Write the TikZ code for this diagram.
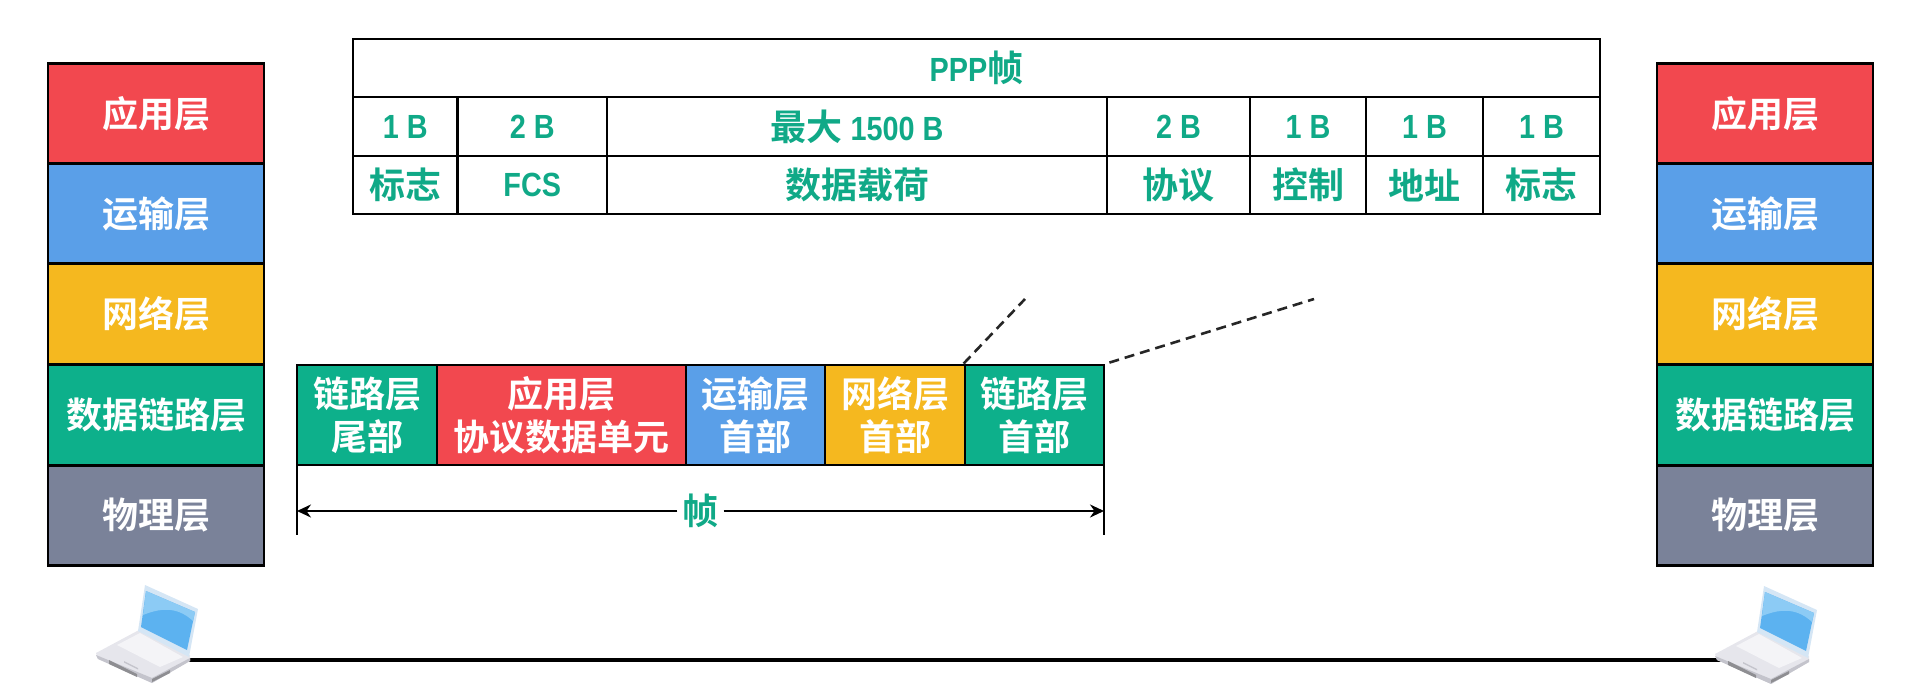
\documentclass[tikz,border=0pt]{standalone}
\usepackage{fontspec}
\setmainfont{Noto Sans CJK SC Bold}
\newfontfamily\latf[FakeStretch=0.86]{Liberation Sans Bold}
\newcommand{\lt}[1]{{\latf\fontsize{33.5}{38}\selectfont #1}}
\usetikzlibrary{arrows.meta}
\definecolor{cred}{HTML}{F2484F}
\definecolor{cblue}{HTML}{5A9FE8}
\definecolor{cyel}{HTML}{F5B81F}
\definecolor{cgreen}{HTML}{0DB08B}
\definecolor{cgray}{HTML}{7A8299}
\definecolor{tgreen}{HTML}{10A987}
\definecolor{scr}{HTML}{5CB2F0}
\definecolor{scrhi}{HTML}{8CCBF5}
\definecolor{scrrim}{HTML}{D5E6F5}
\definecolor{lapbase}{HTML}{E6E6EC}
\definecolor{lapkeys}{HTML}{F4F4F7}
\definecolor{lapside}{HTML}{C4C4CC}
\definecolor{lapdark}{HTML}{8E8E92}
\tikzset{
  layerbox/.style={draw=black,line width=2.8pt,inner sep=0pt,text=white,align=center,font=\fontsize{36}{44}\selectfont,minimum width=216pt,minimum height=100.5pt},
  framebox/.style={draw=black,line width=2.8pt,inner sep=0pt,text=white,align=center,font=\fontsize{36}{43}\selectfont,minimum height=100pt},
  tabcell/.style={draw=black,line width=2.3pt,inner sep=0pt,text=tgreen,align=center,font=\fontsize{36}{42}\selectfont,minimum height=58.5pt},
  guide/.style={draw=black!85,line width=2.6pt,dash pattern=on 10pt off 6pt},
  dim/.style={draw=black,line width=2.6pt},
  laptop/.pic={
    \fill[lapbase] (0,68)--(43,45)--(94,70)--(94,76)--(56,98)--(2,74)--cycle;
    \fill[lapside] (2,74)--(56,98)--(94,76)--(94,73)--(56,93)--(0,70)--cycle;
    \fill[lapkeys] (21,60)--(44,48)--(87,72)--(64,82)--cycle;
    \fill[lapdark] (13,75)--(41,89)--(41,92)--(13,79)--cycle;
    \fill[lapdark] (56,94)--(74,85)--(74,88)--(56,97)--cycle;
    \fill[lapside] (28,76)--(42,83)--(42,84.5)--(28,77.5)--cycle;
    \fill[scrrim] (49,0)--(102,24)--(93,72)--(42,46)--cycle;
    \fill[scr] (50,6)--(99,27)--(91,65)--(45,42)--cycle;
    \fill[scrhi] (50,6)--(99,27)--(97,36) .. controls (80,20) and (62,24) .. (47,30)--cycle;
  }
}
\begin{document}
\begin{tikzpicture}[x=1pt,y=-1pt]
\useasboundingbox (0,0) rectangle (1908,692);
% left stack
\node[layerbox,fill=cred]   (la) at (156,114) {应用层};
\node[layerbox,fill=cblue]  (lb) at (156,214) {运输层};
\node[layerbox,fill=cyel]   (ln) at (156,314) {网络层};
\node[layerbox,fill=cgreen] (ld) at (156,415) {数据链路层};
\node[layerbox,fill=cgray]  (lp) at (156,515.5) {物理层};
% right stack
\node[layerbox,fill=cred]   (ra) at (1765,114) {应用层};
\node[layerbox,fill=cblue]  (rb) at (1765,214) {运输层};
\node[layerbox,fill=cyel]   (rn) at (1765,314) {网络层};
\node[layerbox,fill=cgreen] (rd) at (1765,415) {数据链路层};
\node[layerbox,fill=cgray]  (rp) at (1765,515.5) {物理层};
% link
\coordinate (lapL) at (185,660);
\coordinate (lapR) at (1725,660);
\draw[line width=3.8pt] (lapL) -- (lapR);
\pic at (96,585) {laptop};
\pic at (1715,586) {laptop};
% table
\node[tabcell,minimum width=1247pt] (ppp) at (976.5,68) {\lt{PPP}帧};
\node[tabcell,minimum width=104.5pt] (c1) at (405.25,126.5) {\lt{1 B}};
\node[tabcell,minimum width=149.5pt] (c2) at (532.25,126.5) {\lt{2 B}};
\node[tabcell,minimum width=500pt] (c3) at (857,126.5) {最大\lt{\ 1500 B}};
\node[tabcell,minimum width=143pt] (c4) at (1178.5,126.5) {\lt{2 B}};
\node[tabcell,minimum width=116pt] (c5) at (1308,126.5) {\lt{1 B}};
\node[tabcell,minimum width=117pt] (c6) at (1424.5,126.5) {\lt{1 B}};
\node[tabcell,minimum width=117pt] (c7) at (1541.5,126.5) {\lt{1 B}};
\node[tabcell,minimum width=104.5pt] (d1) at (405.25,185) {标志};
\node[tabcell,minimum width=149.5pt] (d2) at (532.25,185) {\lt{FCS}};
\node[tabcell,minimum width=500pt] (d3) at (857,185) {数据载荷};
\node[tabcell,minimum width=143pt] (d4) at (1178.5,185) {协议};
\node[tabcell,minimum width=116pt] (d5) at (1308,185) {控制};
\node[tabcell,minimum width=117pt] (d6) at (1424.5,185) {地址};
\node[tabcell,minimum width=117pt] (d7) at (1541.5,185) {标志};
% frame
\node[framebox,fill=cgreen,minimum width=140pt] (f1) at (367,415) {链路层\\尾部};
\node[framebox,fill=cred,minimum width=249pt] (f2) at (561.5,415) {应用层\\协议数据单元};
\node[framebox,fill=cblue,minimum width=139pt] (f3) at (755.5,415) {运输层\\首部};
\node[framebox,fill=cyel,minimum width=140pt] (f4) at (895,415) {网络层\\首部};
\node[framebox,fill=cgreen,minimum width=139pt] (f5) at (1034.5,415) {链路层\\首部};
% guides
\coordinate (g1) at (1025,299);
\coordinate (g2) at (1314,299);
\draw[guide] (f5.north west) -- (g1);
\draw[guide] (f5.north east) ++(4,-1) -- (g2);
% dimension
\node[inner sep=0pt,text=tgreen,fill=white,font=\fontsize{36}{40}\selectfont,minimum width=46pt] (fl) at (700.5,511) {帧};
\coordinate (tl1) at (297,465);
\coordinate (tl2) at (297,535);
\coordinate (tr1) at (1104,465);
\coordinate (tr2) at (1104,535);
\draw[dim] (tl1) -- (tl2);
\draw[dim] (tr1) -- (tr2);
\draw[dim,-{Stealth[length=14pt,width=13pt]}] (fl.west) -- (tl1 |- fl.west);
\draw[dim,-{Stealth[length=14pt,width=13pt]}] (fl.east) -- (tr1 |- fl.east);
\end{tikzpicture}
\end{document}
